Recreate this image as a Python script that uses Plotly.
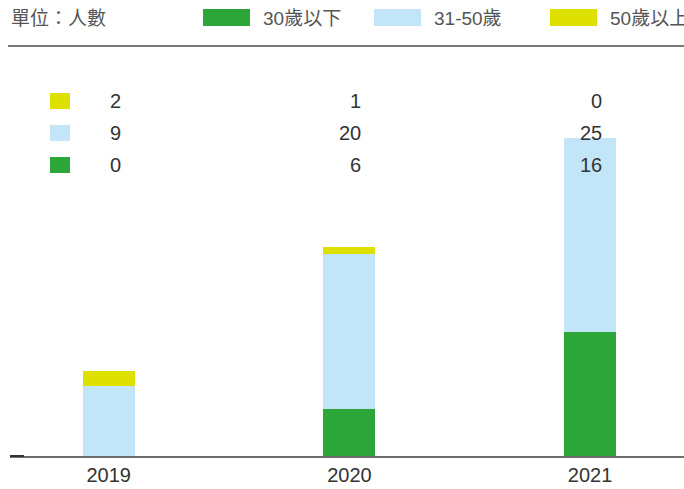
import plotly.graph_objects as go

years = ["2019", "2020", "2021"]
series_names = ["30歲以下", "31-50歲", "50歲以上"]
under30 = [0, 6, 16]
age31_50 = [9, 20, 25]
over50 = [2, 1, 0]
colors = ["#2CA639", "#C2E5F8", "#DEE000"]
unit_label = "單位：人數"

# body margin removed via post_script, so work directly in reference pixels
W, H = 684, 489
BASE = 456          # baseline y in reference pixels
ML, MR, MT = 10, 0, 60
MB = H - BASE
PW, PH = W - ML - MR, H - MT - MB
FONT = "Liberation Sans, Noto Sans CJK TC, sans-serif"

def px_x(px):
    return (px - ML) / PW

def px_y(py):
    return (BASE - py) / PH

fig = go.Figure()
for name, vals, c in zip(series_names, [under30, age31_50, over50], colors):
    fig.add_trace(go.Bar(x=list(range(len(years))), y=vals, name=name,
                         marker=dict(color=c, line=dict(width=0)),
                         width=0.216, showlegend=False, hoverinfo="y"))

shapes = []
annotations = []

# header line
shapes.append(dict(type="line", xref="paper", yref="paper",
                   x0=px_x(8), x1=px_x(690), y0=px_y(46), y1=px_y(46),
                   line=dict(color="#7a7a7a", width=2)))
annotations.append(dict(text=unit_label, xref="paper", yref="paper",
                        x=px_x(9), y=px_y(18), xanchor="left", yanchor="middle",
                        showarrow=False, font=dict(size=19, color="#555555", family=FONT)))

# custom legend at top
leg_box_x = [203, 374, 550]
for i, (name, c) in enumerate(zip(series_names, colors)):
    x0 = leg_box_x[i]
    shapes.append(dict(type="rect", xref="paper", yref="paper",
                       x0=px_x(x0), x1=px_x(x0 + 47), y0=px_y(26), y1=px_y(9),
                       fillcolor=c, line=dict(width=0)))
    annotations.append(dict(text=name, xref="paper", yref="paper",
                            x=px_x(x0 + 58), y=px_y(18), xanchor="left", yanchor="middle",
                            showarrow=False, font=dict(size=19, color="#555555", family=FONT)))

# data table rows (top to bottom: over50, 31-50, under30)
rows = [(over50, colors[2], 101), (age31_50, colors[1], 133), (under30, colors[0], 165)]
for vals, c, py in rows:
    shapes.append(dict(type="rect", xref="paper", yref="paper",
                       x0=px_x(50), x1=px_x(70), y0=px_y(py + 8), y1=px_y(py - 8),
                       fillcolor=c, line=dict(width=0)))
    for i, v in enumerate(vals):
        annotations.append(dict(text=str(v), xref="x", yref="paper",
                                x=i, y=px_y(py), xanchor="right", yanchor="middle",
                                xshift=14, showarrow=False,
                                font=dict(size=20, color="#333333", family=FONT)))

# small dark stub at left of baseline
shapes.append(dict(type="line", xref="paper", yref="paper",
                   x0=px_x(10), x1=px_x(24), y0=0, y1=0,
                   line=dict(color="#333333", width=2)))

fig.update_layout(
    width=W, height=H,
    margin=dict(l=ML, r=MR, t=MT, b=MB),
    paper_bgcolor="white", plot_bgcolor="white",
    barmode="stack", bargap=0,
    shapes=shapes, annotations=annotations,
    xaxis=dict(range=[-0.41, 2.39], tickmode="array", tickvals=list(range(len(years))),
               ticktext=years, showgrid=False, zeroline=False,
               showline=True, linecolor="#6e6e6e", linewidth=2,
               ticks="", ticklen=0, tickfont=dict(size=20, color="#333333", family=FONT)),
    yaxis=dict(range=[0, 41 * (BASE - 60) / (BASE - 138)], visible=False,
               showgrid=False, zeroline=False),
    font=dict(family=FONT),
)

fig.write_html("out.html",
               config={"displayModeBar": False},
               post_script="document.body.style.margin='0';document.body.style.overflow='hidden';")
